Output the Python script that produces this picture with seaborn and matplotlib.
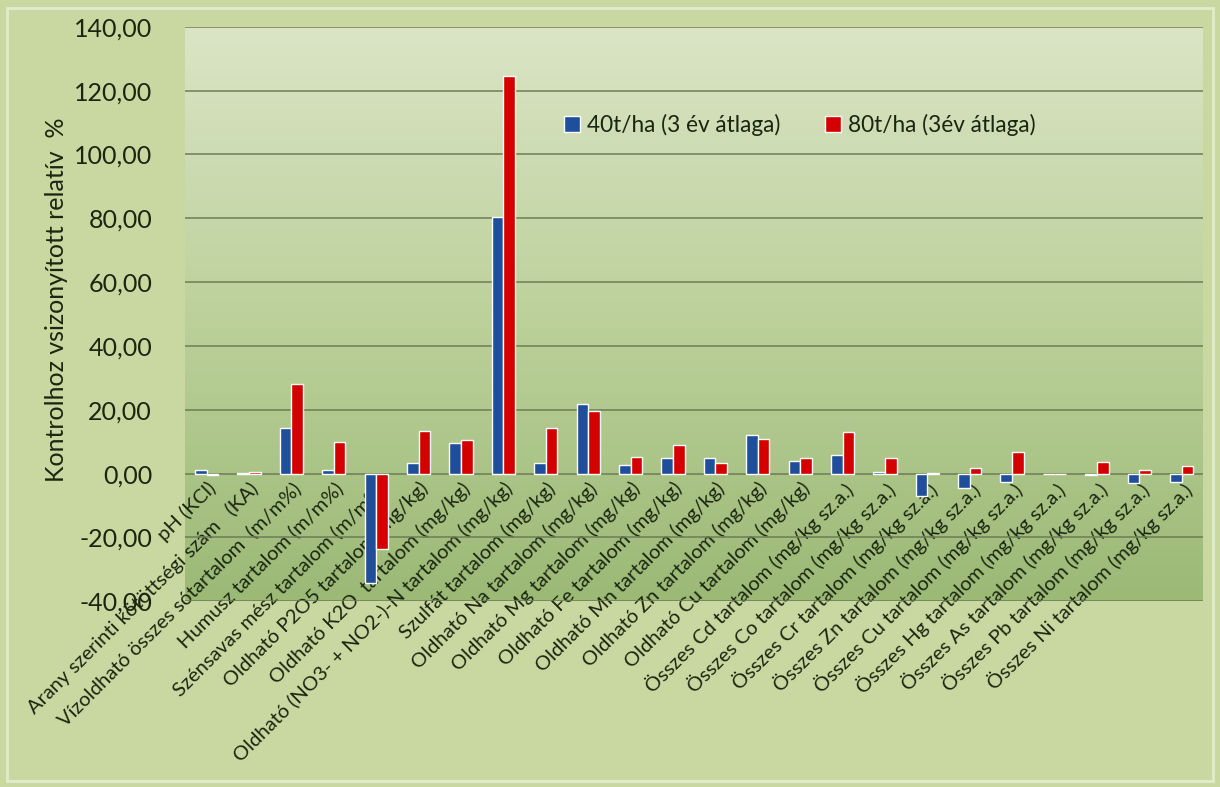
import matplotlib
matplotlib.use('Agg')
import matplotlib.pyplot as plt
import numpy as np
import pandas as pd
import seaborn as sns
from matplotlib.colors import LinearSegmentedColormap
from matplotlib.patches import Rectangle

# kategóriák (x tengely)
categories = [
    'pH (KCl)',
    'Arany szerinti kötöttségi szám   (KA)',
    'Vízoldható összes sótartalom  (m/m%)',
    'Humusz tartalom (m/m%)',
    'Szénsavas mész tartalom (m/m%)',
    'Oldható P2O5 tartalom (mg/kg)',
    'Oldható K2O  tartalom (mg/kg)',
    'Oldható (NO3- + NO2-)-N tartalom (mg/kg)',
    'Szulfát tartalom (mg/kg)',
    'Oldható Na tartalom (mg/kg)',
    'Oldható Mg tartalom (mg/kg)',
    'Oldható Fe tartalom (mg/kg)',
    'Oldható Mn tartalom (mg/kg)',
    'Oldható Zn tartalom (mg/kg)',
    'Oldható Cu tartalom (mg/kg)',
    'Összes Cd tartalom (mg/kg sz.a.)',
    'Összes Co tartalom (mg/kg sz.a.)',
    'Összes Cr tartalom (mg/kg sz.a.)',
    'Összes Zn tartalom (mg/kg sz.a.)',
    'Összes Cu tartalom (mg/kg sz.a.)',
    'Összes Hg tartalom (mg/kg sz.a.)',
    'Összes As tartalom (mg/kg sz.a.)',
    'Összes Pb tartalom (mg/kg sz.a.)',
    'Összes Ni tartalom (mg/kg sz.a.)',
]

# kontrolhoz viszonyított relatív változás, %
dose_40 = [1.0, 0.2, 14.2, 1.0, -34.4, 3.2, 9.5, 80.5, 3.2, 21.8, 2.7, 4.8,
           4.9, 12.2, 4.1, 5.9, 0.5, -6.9, -4.5, -2.5, 0.0, -0.3, -3.0, -2.5]
dose_80 = [-0.3, 0.5, 28.2, 9.8, -23.5, 13.4, 10.5, 124.5, 14.2, 19.5, 5.3, 9.1,
           3.2, 10.8, 4.9, 12.9, 4.8, 0.3, 1.7, 6.9, 0.0, 3.7, 1.2, 2.5]

series_names = ['40t/ha (3 év átlaga)', '80t/ha (3év átlaga)']
y_ticks = [-40, -20, 0, 20, 40, 60, 80, 100, 120, 140]
y_tick_labels = ['-40,00', '-20,00', '0,00', '20,00', '40,00', '60,00',
                 '80,00', '100,00', '120,00', '140,00']
y_label = 'Kontrolhoz vsizonyított relatív  %'

df = pd.DataFrame({
    'kategoria': categories * 2,
    'ertek': dose_40 + dose_80,
    'sorozat': [series_names[0]] * len(categories) + [series_names[1]] * len(categories),
})

sns.set_style('white')
plt.rcParams['font.family'] = ['Lato', 'DejaVu Sans']
text_color = '#1a2610'

fig = plt.figure(figsize=(12.2, 7.87), dpi=100, facecolor='#c8d8a0')
fig.patches.append(Rectangle((0.006, 0.008), 0.988, 0.982, transform=fig.transFigure,
                             fill=False, edgecolor='#e2eacd', lw=2))
ax = fig.add_axes([0.152, 0.236, 0.834, 0.730])

sns.barplot(data=df, x='kategoria', y='ertek', hue='sorozat',
            palette=['#1f4e9b', '#d40000'], width=0.55, saturation=1,
            errorbar=None, ax=ax, zorder=3)

# színátmenetes háttér a rajzterületen
grad = np.linspace(0, 1, 256).reshape(-1, 1)
cmap = LinearSegmentedColormap.from_list('bg', ['#dbe5c6', '#bcd19b', '#9cb976'])
ax.imshow(grad, aspect='auto', cmap=cmap, extent=[0, 1, 0, 1],
          transform=ax.transAxes, zorder=0)

ax.set_xlim(-0.5, len(categories) - 0.5)
ax.set_ylim(-40, 140)
ax.set_yticks(y_ticks)
ax.set_yticklabels(y_tick_labels, fontsize=18, color=text_color)
ax.yaxis.grid(True, color='#6d7c58', lw=1.1)
ax.set_axisbelow(True)

for s in ax.spines.values():
    s.set_visible(False)
ax.spines['bottom'].set_position(('data', 0))

ax.set_xticks(range(len(categories)))
ax.set_xticklabels(categories, rotation=45, ha='right', rotation_mode='anchor',
                   fontsize=14.5, color=text_color)
ax.tick_params(axis='x', length=0, pad=4)
ax.tick_params(axis='y', length=0, pad=24)

ax.set_xlabel('')
ax.set_ylabel(y_label, fontsize=18, color=text_color)
ax.yaxis.set_label_coords(-0.115, 0.525)

ax.legend(loc='center left', bbox_to_anchor=(0.352, 0.829), ncol=2, frameon=False,
          fontsize=16.3, handlelength=0.7, handleheight=0.7, handletextpad=0.3,
          columnspacing=2.0, labelcolor=text_color)

fig.savefig('out.png', dpi=100, facecolor=fig.get_facecolor())
